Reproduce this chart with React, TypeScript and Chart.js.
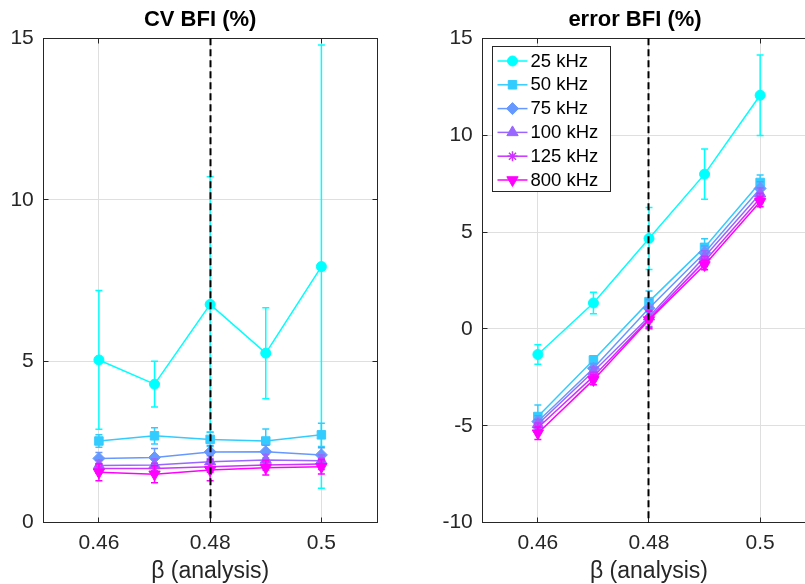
import React, { useEffect, useRef } from "react";
import { Chart, registerables } from "chart.js";
import { drawPoint } from "chart.js/helpers";

Chart.register(...registerables);

const FONT = "'Liberation Sans', Arial, Helvetica, sans-serif";
const TEXT_COLOR = "#262626";
const GRID_COLOR = "#dfdfdf";

// ---- data ----
const BETA = [0.46, 0.47, 0.48, 0.49, 0.5];
const BETA_REF = 0.48;
const X_TICKS = [0.46, 0.48, 0.5];
const X_MIN = 0.45;
const X_MAX = 0.51;
const X_LABEL = "β (analysis)";

const FREQ_LABELS = ["25 kHz", "50 kHz", "75 kHz", "100 kHz", "125 kHz", "800 kHz"];
const COLORS = ["#00FFFF", "#33CCFF", "#6699FF", "#9966FF", "#CC33FF", "#FF00FF"];
const POINT_STYLES = ["circle", "rect", "rectRot", "triangle", "star", "triangle"];
const POINT_ROTATION = [0, 0, 0, 0, 0, 180];
const POINT_RADIUS = [5, 6, 6, 6.5, 5, 6.5];

// CV BFI (%)
const CV_TITLE = "CV BFI (%)";
const CV_TICKS = [0, 5, 10, 15];
const CV_25 = [5.04, 4.29, 6.76, 5.25, 7.93];
const CV_25_SD = [2.15, 0.71, 3.95, 1.41, 6.86];
const CV_50 = [2.53, 2.69, 2.58, 2.53, 2.72];
const CV_50_SD = [0.19, 0.25, 0.22, 0.37, 0.36];
const CV_75 = [1.99, 2.02, 2.19, 2.2, 2.1];
const CV_75_SD = [0.18, 0.28, 0.2, 0.2, 0.22];
const CV_100 = [1.77, 1.79, 1.89, 1.94, 1.92];
const CV_100_SD = [0.16, 0.18, 0.18, 0.17, 0.18];
const CV_125 = [1.68, 1.68, 1.73, 1.79, 1.82];
const CV_125_SD = [0.15, 0.16, 0.17, 0.16, 0.17];
const CV_800 = [1.56, 1.5, 1.63, 1.7, 1.73];
const CV_800_SD = [0.26, 0.26, 0.33, 0.22, 0.22];

// error BFI (%)
const ER_TITLE = "error BFI (%)";
const ER_TICKS = [-10, -5, 0, 5, 10, 15];
const ER_25 = [-1.32, 1.34, 4.67, 7.99, 12.06];
const ER_25_SD = [0.5, 0.55, 1.6, 1.3, 2.08];
const ER_50 = [-4.52, -1.6, 1.41, 4.21, 7.56];
const ER_50_SD = [0.6, 0.22, 0.55, 0.45, 0.38];
const ER_75 = [-4.78, -2.03, 1.07, 3.93, 7.25];
const ER_75_SD = [0.3, 0.25, 0.45, 0.35, 0.35];
const ER_100 = [-4.92, -2.2, 0.63, 3.73, 6.98];
const ER_100_SD = [0.25, 0.22, 0.5, 0.3, 0.3];
const ER_125 = [-5.1, -2.45, 0.52, 3.5, 6.75];
const ER_125_SD = [0.25, 0.22, 0.45, 0.25, 0.25];
const ER_800 = [-5.38, -2.63, 0.46, 3.3, 6.56];
const ER_800_SD = [0.32, 0.25, 0.45, 0.25, 0.25];

const CV_VALUES = [CV_25, CV_50, CV_75, CV_100, CV_125, CV_800];
const CV_SDS = [CV_25_SD, CV_50_SD, CV_75_SD, CV_100_SD, CV_125_SD, CV_800_SD];
const ER_VALUES = [ER_25, ER_50, ER_75, ER_100, ER_125, ER_800];
const ER_SDS = [ER_25_SD, ER_50_SD, ER_75_SD, ER_100_SD, ER_125_SD, ER_800_SD];

// ---- plugins ----
const CAP = 3.5;
const TICK_LEN = 5;

const errorBarPlugin = {
  id: "errorBars",
  beforeDatasetDraw(chart: any, args: any) {
    const ds = chart.data.datasets[args.index];
    const errs: number[] = ds.errors;
    if (!errs) return;
    const { ctx, chartArea } = chart;
    const xs = chart.scales.x;
    const ys = chart.scales.y;
    ctx.save();
    ctx.beginPath();
    ctx.rect(chartArea.left, chartArea.top, chartArea.right - chartArea.left, chartArea.bottom - chartArea.top);
    ctx.clip();
    ctx.strokeStyle = ds.borderColor;
    ctx.lineWidth = 1.5;
    ds.data.forEach((p: any, j: number) => {
      const x = xs.getPixelForValue(p.x);
      const y1 = ys.getPixelForValue(p.y - errs[j]);
      const y2 = ys.getPixelForValue(p.y + errs[j]);
      ctx.beginPath();
      ctx.moveTo(x, y1);
      ctx.lineTo(x, y2);
      ctx.moveTo(x - CAP, y1);
      ctx.lineTo(x + CAP, y1);
      ctx.moveTo(x - CAP, y2);
      ctx.lineTo(x + CAP, y2);
      ctx.stroke();
    });
    ctx.restore();
  },
};

const framePlugin = {
  id: "frame",
  beforeDatasetsDraw(chart: any) {
    const { ctx, chartArea } = chart;
    const l = Math.floor(chartArea.left) + 0.5;
    const r = Math.floor(chartArea.right) + 0.5;
    const t = Math.floor(chartArea.top) + 0.5;
    const b = Math.floor(chartArea.bottom) + 0.5;
    ctx.save();
    ctx.strokeStyle = TEXT_COLOR;
    ctx.lineWidth = 1;
    ctx.strokeRect(l, t, r - l, b - t);
    ctx.beginPath();
    chart.scales.x.ticks.forEach((tk: any) => {
      const x = Math.floor(chart.scales.x.getPixelForValue(tk.value)) + 0.5;
      ctx.moveTo(x, b);
      ctx.lineTo(x, b - TICK_LEN);
      ctx.moveTo(x, t);
      ctx.lineTo(x, t + TICK_LEN);
    });
    chart.scales.y.ticks.forEach((tk: any) => {
      const y = Math.floor(chart.scales.y.getPixelForValue(tk.value)) + 0.5;
      ctx.moveTo(l, y);
      ctx.lineTo(l + TICK_LEN, y);
      ctx.moveTo(r, y);
      ctx.lineTo(r - TICK_LEN, y);
    });
    ctx.stroke();
    ctx.restore();
  },
};

const refLinePlugin = {
  id: "refLine",
  afterDatasetsDraw(chart: any) {
    const { ctx, chartArea } = chart;
    const x = Math.floor(chart.scales.x.getPixelForValue(BETA_REF)) + 0.5;
    ctx.save();
    ctx.strokeStyle = "#000000";
    ctx.lineWidth = 2;
    ctx.setLineDash([7, 4]);
    ctx.beginPath();
    ctx.moveTo(x, chartArea.top);
    ctx.lineTo(x, chartArea.bottom);
    ctx.stroke();
    ctx.restore();
  },
};

const boxLegendPlugin = {
  id: "boxLegend",
  afterDatasetsDraw(chart: any, _args: any, opts: any) {
    if (!opts || !opts.show) return;
    const { ctx, chartArea } = chart;
    const left = Math.floor(chartArea.left + 10) + 0.5;
    const top = Math.floor(chartArea.top + 8) + 0.5;
    const w = 118;
    const rowH = 23.8;
    const h = 145;
    ctx.save();
    ctx.fillStyle = "#ffffff";
    ctx.fillRect(left, top, w, h);
    ctx.strokeStyle = TEXT_COLOR;
    ctx.lineWidth = 1;
    ctx.strokeRect(left, top, w, h);
    chart.data.datasets.forEach((ds: any, i: number) => {
      const y = top + 14.5 + i * rowH;
      ctx.strokeStyle = ds.borderColor;
      ctx.lineWidth = 1.5;
      ctx.beginPath();
      ctx.moveTo(left + 5, y);
      ctx.lineTo(left + 35, y);
      ctx.stroke();
      ctx.fillStyle = ds.borderColor;
      ctx.strokeStyle = ds.borderColor;
      ctx.lineWidth = ds.pointBorderWidth;
      drawPoint(
        ctx,
        {
          pointStyle: ds.pointStyle,
          radius: ds.pointRadius,
          rotation: ds.pointRotation,
          borderWidth: ds.pointBorderWidth,
        } as any,
        left + 20,
        y
      );
      ctx.fillStyle = "#000000";
      ctx.font = `18.5px ${FONT}`;
      ctx.textAlign = "left";
      ctx.textBaseline = "middle";
      ctx.fillText(ds.label, left + 38, y + 0.5);
    });
    ctx.restore();
  },
};

// panel title drawn above the axes box
const panelTitlePlugin = {
  id: "panelTitle",
  afterDraw(chart: any, _args: any, opts: any) {
    if (!opts || !opts.text) return;
    const { ctx, chartArea } = chart;
    ctx.save();
    ctx.fillStyle = "#000000";
    ctx.font = `bold 22px ${FONT}`;
    ctx.textAlign = "center";
    ctx.textBaseline = "middle";
    ctx.fillText(opts.text, (chartArea.left + chartArea.right) / 2 + opts.dx, chartArea.top - 18.5);
    ctx.restore();
  },
};

// ---- chart builder ----
type Panel = {
  title: string;
  titleDx: number;
  values: number[][];
  sds: number[][];
  yTicks: number[];
  padRight: number;
  yAxisWidth: number;
  legend: boolean;
};

function buildConfig(p: Panel): any {
  const datasets = p.values.map((vals, i) => ({
    label: FREQ_LABELS[i],
    data: vals.map((v, j) => ({ x: BETA[j], y: v })),
    errors: p.sds[i],
    borderColor: COLORS[i],
    backgroundColor: COLORS[i],
    borderWidth: 1.5,
    pointStyle: POINT_STYLES[i],
    pointRadius: POINT_RADIUS[i],
    pointRotation: POINT_ROTATION[i],
    pointBackgroundColor: COLORS[i],
    pointBorderColor: COLORS[i],
    pointBorderWidth: POINT_STYLES[i] === "star" ? 1.5 : 1,
    tension: 0,
    fill: false,
    order: p.values.length - 1 - i,
  }));
  return {
    type: "line",
    data: { datasets },
    options: {
      responsive: false,
      maintainAspectRatio: false,
      devicePixelRatio: 1,
      animation: false,
      events: [],
      layout: { padding: { left: 0, right: p.padRight, top: 38.3, bottom: 0 } },
      plugins: {
        legend: { display: false },
        tooltip: { enabled: false },
        title: { display: false },
        boxLegend: { show: p.legend },
        panelTitle: { text: p.title, dx: p.titleDx },
      },
      scales: {
        x: {
          type: "linear",
          min: X_MIN,
          max: X_MAX,
          afterBuildTicks: (axis: any) => {
            axis.ticks = X_TICKS.map((value) => ({ value }));
          },
          afterFit: (axis: any) => {
            axis.height = 61.3;
          },
          ticks: {
            autoSkip: false,
            maxRotation: 0,
            color: TEXT_COLOR,
            padding: 8.2,
            font: { family: FONT, size: 21 },
            callback: (v: any) => String(v),
          },
          grid: { color: GRID_COLOR, drawTicks: false, lineWidth: 1 },
          border: { display: false },
          title: {
            display: true,
            text: X_LABEL,
            color: TEXT_COLOR,
            font: { family: FONT, size: 23, lineHeight: 1.1 },
            padding: { top: 0, bottom: 0 },
          },
        },
        y: {
          type: "linear",
          min: p.yTicks[0],
          max: p.yTicks[p.yTicks.length - 1],
          afterBuildTicks: (axis: any) => {
            axis.ticks = p.yTicks.map((value) => ({ value }));
          },
          afterFit: (axis: any) => {
            axis.width = p.yAxisWidth;
          },
          ticks: {
            autoSkip: false,
            color: TEXT_COLOR,
            padding: 9.5,
            font: { family: FONT, size: 21 },
            callback: (v: any) => String(v),
          },
          grid: { color: GRID_COLOR, drawTicks: false, lineWidth: 1 },
          border: { display: false },
        },
      },
    },
    plugins: [framePlugin, errorBarPlugin, refLinePlugin, boxLegendPlugin, panelTitlePlugin],
  };
}

export default function App() {
  const leftRef = useRef<HTMLCanvasElement>(null);
  const rightRef = useRef<HTMLCanvasElement>(null);

  useEffect(() => {
    const left = new Chart(
      leftRef.current as HTMLCanvasElement,
      buildConfig({
        title: CV_TITLE,
        titleDx: -10,
        values: CV_VALUES,
        sds: CV_SDS,
        yTicks: CV_TICKS,
        padRight: 23,
        yAxisWidth: 43.3,
        legend: false,
      })
    );
    const right = new Chart(
      rightRef.current as HTMLCanvasElement,
      buildConfig({
        title: ER_TITLE,
        titleDx: -14,
        values: ER_VALUES,
        sds: ER_SDS,
        yTicks: ER_TICKS,
        padRight: 14.3,
        yAxisWidth: 82.3,
        legend: true,
      })
    );
    return () => {
      left.destroy();
      right.destroy();
    };
  }, []);

  return (
    <div
      style={{
        position: "absolute",
        left: 0,
        top: 0,
        width: 805,
        height: 584,
        overflow: "hidden",
        background: "#ffffff",
      }}
    >
      <canvas
        ref={leftRef}
        width={400}
        height={584}
        style={{ position: "absolute", left: 0, top: 0, width: 400, height: 584 }}
      />
      <canvas
        ref={rightRef}
        width={430}
        height={584}
        style={{ position: "absolute", left: 400, top: 0, width: 430, height: 584 }}
      />
    </div>
  );
}
